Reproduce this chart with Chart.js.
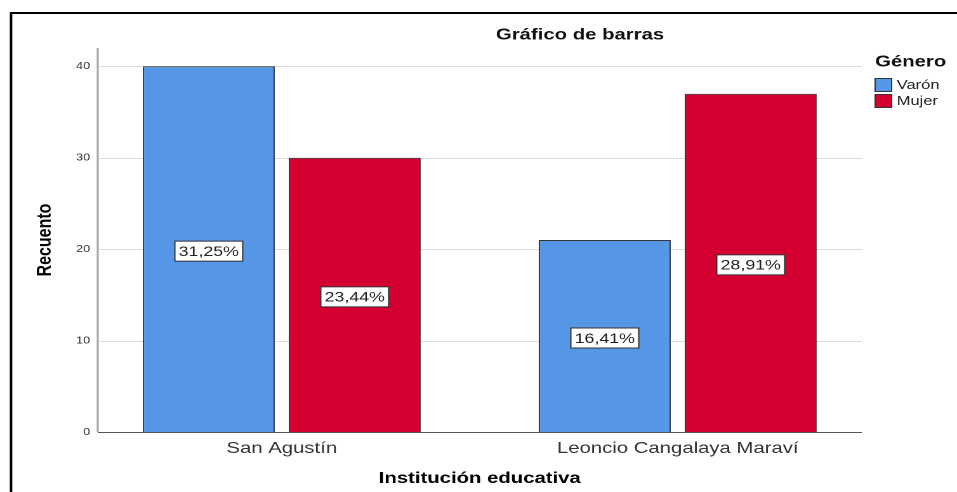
<!DOCTYPE html>
<html>
<head>
<meta charset="utf-8">
<title>Gráfico de barras</title>
<script src="https://cdn.jsdelivr.net/npm/chart.js@4.4.0/dist/chart.umd.min.js"></script>
<style>
  html, body { margin: 0; padding: 0; background: #fff; overflow: hidden; }
  /* the reference picture is stretched sideways, so the canvas is too */
  #wrap { width: 754px; height: 492px; transform: scaleX(1.2692); transform-origin: 0 0; }
</style>
</head>
<body>
<div id="wrap"><canvas id="myChart" width="754" height="492"></canvas></div>
<script>
const categories = ['San Agustín', 'Leoncio Cangalaya Maraví'];
const seriesNames = ['Varón', 'Mujer'];
const varonCounts = [40, 21];
const mujerCounts = [30, 37];
const seriesColors = ['#5596E6', '#D50032'];
const yTicks = [0, 10, 20, 30, 40];
const yMax = 42;

const FONT = '"Liberation Sans", Arial, sans-serif';
Chart.defaults.font.family = FONT;

// total of all counts, used for the percentage labels
const total = varonCounts.concat(mujerCounts).reduce((a, b) => a + b, 0);

function pctText(v) {
  return (v / total * 100).toFixed(2).replace('.', ',') + '%';
}

// frame, grid lines, axis line and tick labels (the y labels sit a bit inside the plot box)
const backdrop = {
  id: 'backdrop',
  beforeDraw(chart) {
    const ctx = chart.ctx;
    ctx.save();
    ctx.strokeStyle = '#000';
    ctx.lineWidth = 2;
    ctx.beginPath();
    ctx.moveTo(chart.width, 13);
    ctx.lineTo(8.7, 13);
    ctx.lineTo(8.7, chart.height);
    ctx.stroke();
    ctx.restore();
  },
  beforeDatasetsDraw(chart) {
    const ctx = chart.ctx;
    const y = chart.scales.y;
    const area = chart.chartArea;
    const gx0 = area.left + 11, gx1 = area.right - 11;
    ctx.save();
    ctx.strokeStyle = '#dcdcdc';
    ctx.lineWidth = 1;
    yTicks.forEach(t => {
      if (t === 0) return;
      const py = Math.round(y.getPixelForValue(t)) + 0.5;
      ctx.beginPath();
      ctx.moveTo(gx0, py);
      ctx.lineTo(gx1, py);
      ctx.stroke();
    });
    ctx.strokeStyle = '#a8a8a8';
    ctx.lineWidth = 1.6;
    ctx.beginPath();
    ctx.moveTo(gx0, y.getPixelForValue(yMax));
    ctx.lineTo(gx0, y.getPixelForValue(0));
    ctx.stroke();

    ctx.fillStyle = '#333';
    ctx.font = '10px ' + FONT;
    ctx.textAlign = 'right';
    ctx.textBaseline = 'middle';
    y.ticks.forEach(t => {
      ctx.fillText(String(t.value), area.left + 5, y.getPixelForValue(t.value));
    });
    ctx.restore();
  },
  afterDatasetsDraw(chart) {
    const ctx = chart.ctx;
    const y = chart.scales.y;
    const area = chart.chartArea;
    const py = Math.round(y.getPixelForValue(0)) + 0.5;
    ctx.save();
    ctx.strokeStyle = '#555';
    ctx.lineWidth = 1;
    ctx.beginPath();
    ctx.moveTo(area.left + 11, py);
    ctx.lineTo(area.right - 11, py);
    ctx.stroke();

    // percentage boxes in the middle of each bar
    ctx.font = '14px ' + FONT;
    ctx.textAlign = 'center';
    ctx.textBaseline = 'middle';
    chart.data.datasets.forEach((ds, i) => {
      chart.getDatasetMeta(i).data.forEach((bar, j) => {
        const v = ds.data[j];
        const text = pctText(v);
        const cy = y.getPixelForValue(v / 2) + 2;
        const w = ctx.measureText(text).width + 6;
        const h = 20;
        ctx.fillStyle = '#fff';
        ctx.fillRect(bar.x - w / 2, cy - h / 2, w, h);
        ctx.strokeStyle = '#333';
        ctx.strokeRect(bar.x - w / 2, cy - h / 2, w, h);
        ctx.fillStyle = '#222';
        ctx.fillText(text, bar.x, cy + 1);
      });
    });
    ctx.restore();
  },
  afterDraw(chart) {
    const ctx = chart.ctx;
    ctx.save();
    ctx.fillStyle = '#111';
    ctx.font = 'bold 16px ' + FONT;
    ctx.textAlign = 'center';
    ctx.textBaseline = 'middle';
    ctx.fillText('Gráfico de barras', 457, 35);

    // legend
    const lx = 689.5;
    ctx.textAlign = 'left';
    ctx.fillText('Género', lx, 62);
    ctx.font = '13px ' + FONT;
    chart.data.datasets.forEach((ds, i) => {
      const by = 78.5 + i * 16;
      ctx.fillStyle = ds.backgroundColor;
      ctx.fillRect(lx, by, 13, 13);
      ctx.strokeStyle = '#333';
      ctx.lineWidth = 1;
      ctx.strokeRect(lx, by, 13, 13);
      ctx.fillStyle = '#222';
      ctx.fillText(ds.label, lx + 17, by + 7);
    });
    ctx.restore();
  }
};

const ctx = document.getElementById('myChart');

new Chart(ctx, {
  type: 'bar',
  data: {
    labels: categories,
    datasets: [
      { label: seriesNames[0], data: varonCounts, backgroundColor: seriesColors[0] },
      { label: seriesNames[1], data: mujerCounts, backgroundColor: seriesColors[1] }
    ]
  },
  options: {
    responsive: false,
    maintainAspectRatio: false,
    animation: false,
    devicePixelRatio: 2,
    layout: { padding: { top: 48, right: 64, left: 0, bottom: 0 } },
    datasets: {
      bar: {
        borderColor: '#333',
        borderWidth: 1,
        categoryPercentage: 0.737,
        barPercentage: 0.904
      }
    },
    scales: {
      x: {
        grid: { display: false, drawTicks: false },
        border: { display: false },
        ticks: { font: { size: 16 }, color: '#333', padding: 7 },
        title: {
          display: true,
          text: 'Institución educativa',
          font: { size: 16, weight: 'bold' },
          color: '#000',
          padding: { top: 0, bottom: 4 }
        },
        afterFit: s => { s.height = 60; }
      },
      y: {
        min: 0,
        max: yMax,
        afterBuildTicks: s => { s.ticks = yTicks.map(v => ({ value: v })); },
        grid: { display: false, drawTicks: false },
        border: { display: false },
        ticks: { display: false },
        title: {
          display: true,
          text: 'Recuento',
          font: { size: 16, weight: 'bold' },
          color: '#000',
          padding: { top: 26, bottom: 0 }
        },
        afterFit: s => { s.width = 66; }
      }
    },
    plugins: {
      legend: { display: false },
      title: { display: false },
      tooltip: { enabled: false }
    }
  },
  plugins: [backdrop]
});
</script>
</body>
</html>
